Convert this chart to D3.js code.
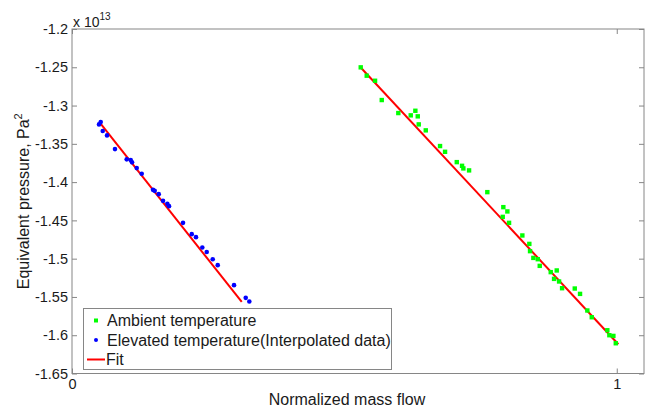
<!DOCTYPE html>
<html><head><meta charset="utf-8">
<script src="https://cdn.jsdelivr.net/npm/d3@7"></script>
<style>
body{margin:0;background:#fff;}
text{font-family:"Liberation Sans",Arial,sans-serif;fill:#1a1a1a;}
</style></head>
<body><svg id="c" width="648" height="410"></svg>
<script>
// Data (y values in units of 1e13 Pa^2)
const ambientX = [0.5300,0.5410,0.5563,0.5686,0.5990,0.6218,0.6303,0.6347,0.6365,0.6494,0.6756,0.6848,0.7063,0.7160,0.7184,0.7289,0.7624,0.7918,0.7992,0.7907,0.8023,0.8267,0.8395,0.8408,0.8469,0.8550,0.8586,0.8788,0.8898,0.8849,0.8941,0.8996,0.9229,0.9326,0.9460,0.9541,0.9827,0.9864,0.9938,0.9982];
const ambientY = [-1.2501,-1.2610,-1.2676,-1.2928,-1.3098,-1.3128,-1.3068,-1.3141,-1.3246,-1.3324,-1.3529,-1.3604,-1.3739,-1.3787,-1.3821,-1.3847,-1.4131,-1.4327,-1.4383,-1.4454,-1.4532,-1.4697,-1.4807,-1.4902,-1.4990,-1.5007,-1.5094,-1.5176,-1.5154,-1.5264,-1.5298,-1.5386,-1.5390,-1.5460,-1.5677,-1.5765,-1.5935,-1.6000,-1.6009,-1.6105];
const elevatedX = [0.0496,0.0527,0.0564,0.0643,0.0789,0.1004,0.1078,0.1102,0.1188,0.1280,0.1487,0.1518,0.1592,0.1671,0.1750,0.1781,0.2038,0.2198,0.2276,0.2392,0.2473,0.2583,0.2675,0.2974,0.3189,0.3255];
const elevatedY = [-1.3246,-1.3216,-1.3333,-1.3390,-1.3569,-1.3703,-1.3712,-1.3742,-1.3817,-1.3891,-1.4101,-1.4114,-1.4157,-1.4245,-1.4284,-1.4314,-1.4532,-1.4680,-1.4719,-1.4854,-1.4912,-1.5007,-1.5085,-1.5346,-1.5512,-1.5559];
const fitElevX = [0.0514,0.3116];
const fitElevY = [-1.3225,-1.5565];
const fitAmbX = [0.5287,1.0029];
const fitAmbY = [-1.2493,-1.6118];
const yTicks = [-1.2,-1.25,-1.3,-1.35,-1.4,-1.45,-1.5,-1.55,-1.6,-1.65];
const xTicks = [0,1];
const legendLabels = ["Ambient temperature","Elevated temperature(Interpolated data)","Fit"];

const L=72,R=644,T=29,B=373.5;
const svg=d3.select("#c");
const x=d3.scaleLinear().domain([0,1.05]).range([L,R]);
const y=d3.scaleLinear().domain([-1.65,-1.2]).range([B,T]);
const axisCol="#868686";
const FF="Liberation Sans, Arial, sans-serif";

// frame
svg.append("rect").attr("x",L).attr("y",T).attr("width",R-L).attr("height",B-T)
  .attr("fill","#fff").attr("stroke",axisCol).attr("stroke-width",1);

// left axis
const ya=svg.append("g").attr("transform",`translate(${L},0)`)
  .call(d3.axisLeft(y).tickValues(yTicks).tickSize(-5).tickPadding(4).tickFormat(d=>String(+d.toFixed(2))));
ya.select(".domain").remove();
ya.selectAll("line").attr("stroke",axisCol);
ya.selectAll("text").attr("font-size",14.5).attr("fill","#1a1a1a").style("font-family",FF);
// right mirror ticks
const yr=svg.append("g").attr("transform",`translate(${R},0)`)
  .call(d3.axisRight(y).tickValues(yTicks).tickSize(-5).tickFormat(""));
yr.select(".domain").remove();
yr.selectAll("line").attr("stroke",axisCol);

// bottom axis
const xa=svg.append("g").attr("transform",`translate(0,${B})`)
  .call(d3.axisBottom(x).tickValues(xTicks).tickSize(-5).tickPadding(5).tickFormat(d3.format("d")));
xa.select(".domain").remove();
xa.selectAll("line").attr("stroke",axisCol);
xa.selectAll("text").attr("font-size",14.5).attr("fill","#1a1a1a").style("font-family",FF);
const xt=svg.append("g").attr("transform",`translate(0,${T})`)
  .call(d3.axisTop(x).tickValues(xTicks).tickSize(-5).tickFormat(""));
xt.select(".domain").remove();
xt.selectAll("line").attr("stroke",axisCol);

// exponent
const ex=svg.append("text").attr("x",L+1).attr("y",T-2).attr("font-size",14);
ex.append("tspan").text("x 10");
ex.append("tspan").attr("font-size",10).attr("dy",-7).text("13");

// axis labels
svg.append("text").attr("x",(L+R)/2-11).attr("y",405).attr("text-anchor","middle").attr("font-size",16).text("Normalized mass flow");
const yl=svg.append("text").attr("transform",`translate(29,${(T+B)/2}) rotate(-90)`).attr("text-anchor","middle").attr("font-size",16);
yl.append("tspan").text("Equivalent pressure, Pa");
yl.append("tspan").attr("font-size",11).attr("dy",-7).text("2");

// fit lines
const line=d3.line().x(d=>x(d[0])).y(d=>y(d[1]));
svg.append("path").datum(d3.zip(fitElevX,fitElevY)).attr("d",line).attr("stroke","#ff0000").attr("stroke-width",2).attr("fill","none");
svg.append("path").datum(d3.zip(fitAmbX,fitAmbY)).attr("d",line).attr("stroke","#ff0000").attr("stroke-width",2).attr("fill","none");

// points
svg.append("g").selectAll("rect").data(d3.zip(ambientX,ambientY)).join("rect")
  .attr("x",d=>x(d[0])-2.2).attr("y",d=>y(d[1])-2.2).attr("width",4.4).attr("height",4.4).attr("fill","#00ff00");
svg.append("g").selectAll("circle").data(d3.zip(elevatedX,elevatedY)).join("circle")
  .attr("cx",d=>x(d[0])).attr("cy",d=>y(d[1])).attr("r",2.3).attr("fill","#0000ff");

// legend
const lg=svg.append("g");
lg.append("rect").attr("x",83.5).attr("y",308.5).attr("width",308).attr("height",61).attr("fill","#fff").attr("stroke",axisCol);
const ly=[320.5,340,359.5];
lg.append("rect").attr("x",94).attr("y",ly[0]-2).attr("width",4).attr("height",4).attr("fill","#00ff00");
lg.append("circle").attr("cx",96).attr("cy",ly[1]).attr("r",2).attr("fill","#0000ff");
lg.append("line").attr("x1",87).attr("x2",105).attr("y1",ly[2]).attr("y2",ly[2]).attr("stroke","#ff0000").attr("stroke-width",2);
lg.selectAll("text.l").data(legendLabels).join("text").attr("class","l")
  .attr("x",d=>d==="Fit"?106:107).attr("y",(d,i)=>ly[i]).attr("dy","0.35em").attr("font-size",16).text(d=>d);
</script></body></html>
